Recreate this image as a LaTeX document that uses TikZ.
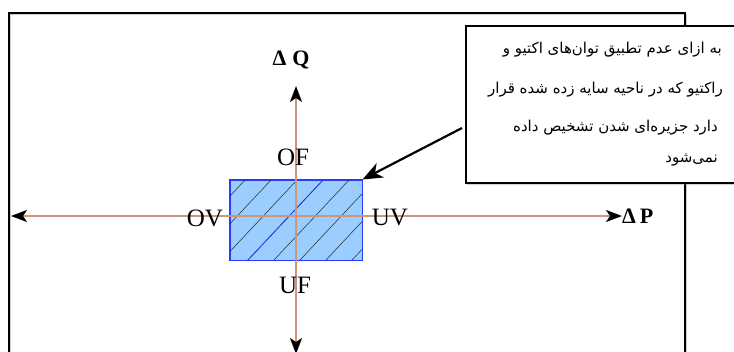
\documentclass[tikz,border=0pt]{standalone}
\usepackage{fontspec}
\setmainfont{Liberation Serif}
\newfontfamily\arabicfont[Script=Arabic]{DejaVu Sans}
\TeXXeTstate=1
\usetikzlibrary{arrows.meta,shadows}
\definecolor{axisc}{RGB}{205,150,120}
\definecolor{fillc}{RGB}{155,205,255}
\definecolor{edgec}{RGB}{40,60,255}
\tikzset{
  axisline/.style={draw=axisc, line width=1.8pt, {Stealth[length=16pt,width=12pt,inset=4pt,color=black]}-{Stealth[length=16pt,width=12pt,inset=4pt,color=black]}},
  lbl/.style={font=\fontsize{25}{25}\selectfont, inner sep=0pt},
  dlbl/.style={font=\bfseries\fontsize{22}{22}\selectfont, inner sep=0pt},
  ptext/.style={font=\arabicfont\fontsize{15}{17}\selectfont, inner sep=0pt, anchor=east},
  hatch/.style={draw=black!85, line width=0.5pt},
}
\begin{document}
\begin{tikzpicture}[x=1pt,y=-1pt]
\useasboundingbox (0,0) rectangle (734,351);
\clip (0,0) rectangle (734,351);
% outer frame
\draw[black!20, line width=1pt] (10.8,360) -- (10.8,14.8) -- (686.8,14.8) -- (686.8,360);
\draw[line width=2pt] (9,360) -- (9,13) -- (685,13) -- (685,360);
% shaded region
\node[draw=edgec, fill=fillc, line width=1pt, minimum width=132pt, minimum height=80pt, inner sep=0pt] (reg) at (296,220) {};
\begin{scope}
  \clip (reg.south west) rectangle (reg.north east);
  \foreach \k in {-4,...,4}{
    \draw[hatch] ({248+26*\k-15},276) -- ++(105,-112);
  }
  \draw[edgec, line width=0.8pt] (233,276) -- ++(105,-112);
\end{scope}
\draw[edgec, line width=1pt] (reg.south west) rectangle (reg.north east);
% axes
\coordinate (xl) at (11,216);
\coordinate (xr) at (622,216);
\coordinate (yt) at (296,86);
\coordinate (yb) at (296,354);
\draw[axisline] (xl) -- (xr);
\draw[axisline] (yb) -- (yt);
% labels
\node[lbl] (of) at (293,157) {OF};
\node[lbl] (ov) at (205,218) {OV};
\node[lbl] (uv) at (390,218) {UV};
\node[lbl] (uf) at (295,285) {UF};
\node[dlbl] (dq) at (291,60) {Δ\hspace{6pt}Q};
\node[dlbl, anchor=west] (dp) at (622,216) {Δ\hspace{4pt}P};
% callout
\node[draw, line width=1.5pt, fill=white, anchor=north west, minimum width=280pt, minimum height=157pt, inner sep=0pt,
      drop shadow={shadow xshift=1pt, shadow yshift=-2pt, opacity=0.35}] (box) at (465,25) {};
\node[ptext] (l1) at (722,50) {\beginR به ازای عدم تطبیق توان‌های اکتیو و\endR};
\node[ptext] (l2) at (723,90) {\beginR راکتیو که در ناحیه سایه زده شده قرار\endR};
\node[ptext] (l3) at (718,128) {\beginR دارد جزیره‌ای شدن تشخیص داده\endR};
\node[ptext] (l4) at (718,160) {\beginR نمی‌شود\endR};
\coordinate (cs) at (462,128);
\draw[line width=2.2pt, -{Stealth[length=20pt,width=16pt,inset=6pt]}] (cs) -- (reg.north east);
\end{tikzpicture}
\end{document}
